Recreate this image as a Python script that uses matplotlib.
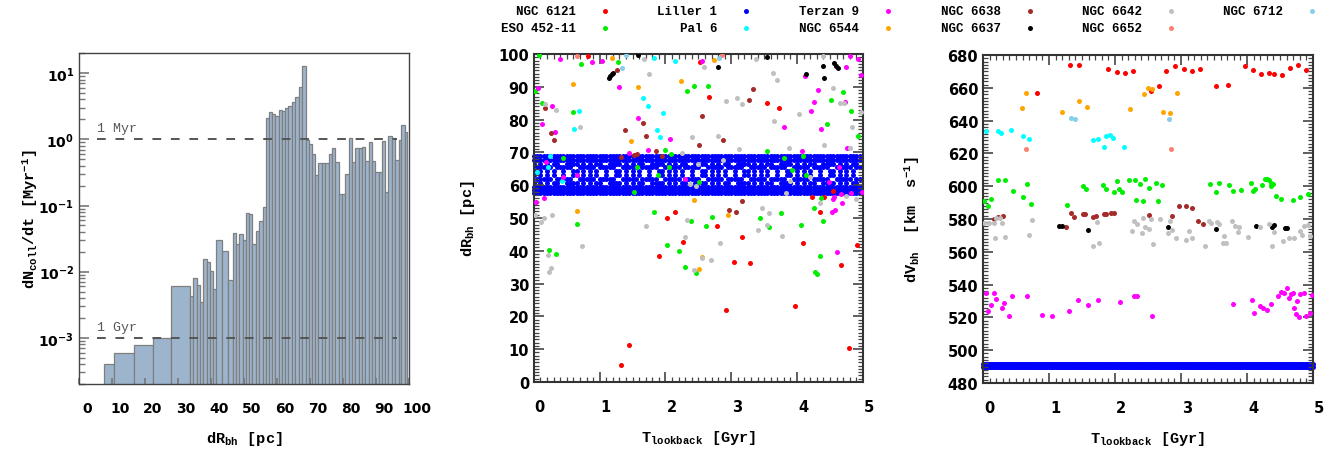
import numpy as np
import matplotlib
matplotlib.use('Agg')
import matplotlib.pyplot as plt
from matplotlib.lines import Line2D
from matplotlib.transforms import ScaledTranslation
from matplotlib.ticker import MultipleLocator, LogLocator, NullFormatter

plt.rcParams['mathtext.fontset'] = 'custom'
plt.rcParams['mathtext.rm'] = 'Liberation Mono:bold'
plt.rcParams['mathtext.bf'] = 'Liberation Mono:bold'
plt.rcParams['mathtext.it'] = 'Liberation Mono:bold'
plt.rcParams['mathtext.sf'] = 'DejaVu Sans:bold'
plt.rcParams['mathtext.default'] = 'rm'

MONO = 'Liberation Mono'

# collision rate histogram: bin edges [pc] and rate per bin [1/Myr]
hist_edges = [7.6, 10.5, 16.7, 22.5, 27.9, 33.6, 34.6, 35.7, 36.7, 37.5, 38.7, 39.7, 40.7,
              41.5, 43.3, 45.2, 46.6, 47.6, 48.6, 49.6, 50.6, 51.6, 52.6, 53.6, 54.6, 55.7,
              56.7, 57.5, 58.5, 59.5, 60.5, 61.5, 62.5, 63.5, 64.5, 65.6, 66.6, 67.6, 68.8,
              69.6, 70.6, 71.6, 72.6, 73.6, 74.6, 75.7, 76.7, 77.7, 78.7, 79.7, 80.7, 81.7,
              82.7, 83.7, 84.8, 85.8, 86.8, 87.8, 88.8, 89.8, 90.8, 91.8, 92.8, 93.8, 94.8,
              95.9, 96.9, 97.7, 98.7, 99.5]
hist_rate = [4.0e-4, 5.9e-4, 7.9e-4, 1.0e-3, 6.0e-3,
             4.3e-3, 8.0e-3, 6.3e-3, 3.5e-3, 0.0158, 0.0138, 0.0103, 5.5e-3,
             0.0296, 0.0205, 7.4e-3, 0.039, 0.026, 0.037, 0.030, 0.076, 0.075, 0.026,
             0.041, 0.058, 0.094,
             2.1, 2.56, 2.4, 2.28, 2.78, 2.7, 2.94, 3.2, 3.7, 4.3, 6.2, 12.7,
             0.99, 0.85, 0.59, 0.29, 0.44, 0.44, 0.44, 0.59, 0.74, 0.45, 0.15, 0.15,
             0.30, 1.06, 0.45, 0.75, 0.75, 0.77, 0.47, 0.91, 0.47, 0.32, 0.32, 0.94,
             0.16, 1.13, 1.06, 0.48, 0.99, 1.65, 1.29]

clusters = ['NGC 6121', 'ESO 452-11', 'Liller 1', 'Pal 6', 'Terzan 9', 'NGC 6544',
            'NGC 6638', 'NGC 6637', 'NGC 6642', 'NGC 6652', 'NGC 6712']
colors = ['#ff0000', '#00ee00', '#0000ff', '#00ffff', '#ff00ff', '#ffa500',
          '#a52a2a', '#000000', '#c0c0c0', '#fa8072', '#87ceeb']

# (T_lookback [Gyr], dR_bh [pc]) per cluster
dr_pts = {
    'NGC 6121': [(0.83, 99.5), (2.53, 97.5), (2.66, 87.0), (3.54, 85.2), (3.72, 83.5), (4.54, 58.3),
                 (4.22, 56.5), (4.41, 56.5), (2.03, 49.9), (2.15, 51.9), (2.27, 42.6), (1.90, 38.4),
                 (2.79, 47.4), (3.17, 44.1), (3.04, 36.6), (3.29, 36.2), (2.92, 21.8), (1.45, 11.4),
                 (1.32, 5.2), (4.09, 42.4), (3.97, 23.2), (4.35, 51.9), (4.66, 35.7), (4.91, 41.9),
                 (4.79, 10.5)],
    'ESO 452-11': [(0.08, 99.7), (0.71, 96.8), (1.28, 97.7), (0.02, 88.8), (2.43, 90.3), (2.32, 88.8),
                   (2.65, 90.1), (4.70, 88.3), (4.52, 86.1), (4.82, 82.5), (4.46, 78.7), (4.93, 75.1),
                   (3.54, 70.5), (4.09, 69.0), (1.99, 70.8), (2.09, 69.5), (0.12, 85.1), (0.60, 82.2),
                   (0.45, 68.3), (1.56, 65.4), (1.88, 63.1), (2.06, 65.4), (1.52, 57.8), (2.51, 61.1),
                   (3.80, 68.2), (3.92, 64.7), (4.13, 63.1), (0.23, 40.2), (0.34, 39.0), (0.66, 48.1),
                   (1.82, 51.9), (2.39, 49.2), (2.03, 41.9), (2.21, 39.8), (2.29, 35.0), (2.47, 33.2),
                   (2.62, 47.6), (2.71, 50.2), (3.44, 50.1), (3.58, 47.2), (3.75, 51.5), (4.06, 47.9),
                   (4.37, 56.0), (4.25, 53.0), (4.40, 49.2), (4.35, 38.4), (4.27, 33.6), (4.31, 32.9)],
    'Pal 6': [(1.83, 98.7), (2.14, 98.0), (1.66, 86.6), (1.74, 84.0), (1.97, 81.9), (1.92, 74.6),
              (1.87, 76.7), (0.69, 82.6), (0.61, 77.1), (0.25, 68.8), (0.22, 65.4), (0.05, 64.0),
              (0.43, 61.4)],
    'Terzan 9': [(0.40, 98.5), (0.89, 97.5), (1.03, 97.9), (2.56, 97.9), (4.80, 99.3), (4.92, 98.5),
                 (4.75, 96.1), (4.12, 93.4), (4.97, 93.6), (0.07, 89.5), (1.29, 90.0), (4.32, 89.0),
                 (4.73, 85.3), (4.25, 85.3), (4.21, 82.5), (4.37, 77.1), (4.76, 71.2), (4.08, 70.3),
                 (3.80, 77.8), (2.07, 74.0), (1.59, 80.4), (1.74, 70.8), (1.44, 69.8), (0.28, 84.2),
                 (0.12, 78.7), (0.32, 76.1), (0.19, 67.0), (0.44, 62.4), (0.66, 63.1), (2.30, 61.9),
                 (4.64, 65.4), (4.49, 60.9), (4.67, 57.3), (4.82, 57.5), (4.99, 58.0), (4.56, 56.3),
                 (0.03, 54.8), (0.16, 56.1), (4.55, 55.8), (4.69, 54.6), (4.57, 52.5), (4.53, 51.7),
                 (4.61, 39.5)],
    'NGC 6544': [(1.19, 98.7), (2.73, 98.2), (0.59, 90.7), (1.58, 89.8), (2.23, 91.8), (1.47, 73.6),
                 (2.44, 55.6), (0.65, 52.0), (2.56, 38.0), (2.51, 34.3), (2.95, 51.0)],
    'NGC 6638': [(1.27, 95.2), (3.33, 89.2), (3.27, 86.1), (2.88, 73.9), (2.51, 72.1), (2.55, 81.2),
                 (1.70, 75.1), (1.66, 79.0), (1.38, 76.7), (1.85, 70.3), (1.95, 69.0), (1.52, 69.2),
                 (1.33, 68.5), (1.56, 69.5), (0.17, 83.4), (0.26, 75.9), (0.30, 73.8), (2.97, 52.4),
                 (3.07, 51.7), (3.16, 55.1)],
    'NGC 6637': [(1.59, 99.7), (3.54, 99.2), (4.40, 96.4), (4.56, 97.1), (4.59, 96.4), (4.62, 95.8),
                 (1.18, 93.9), (1.16, 93.2), (1.14, 92.6), (1.21, 94.2), (2.80, 95.9), (4.14, 93.9),
                 (4.41, 92.7)],
    'NGC 6642': [(1.67, 98.5), (2.58, 95.9), (3.37, 98.5), (4.40, 99.3), (1.75, 93.9), (3.63, 94.2),
                 (3.69, 92.1), (4.55, 89.7), (4.65, 85.0), (4.72, 85.0), (4.97, 82.2), (4.03, 81.7),
                 (4.83, 77.8), (4.80, 71.2), (4.41, 72.1), (3.87, 71.3), (3.12, 71.0), (2.80, 75.1),
                 (2.41, 74.6), (2.92, 85.8), (3.08, 86.6), (3.16, 84.7), (3.65, 79.7), (2.25, 69.7),
                 (0.33, 82.9), (0.17, 84.6), (0.70, 77.8), (2.88, 67.8), (2.50, 66.4), (2.37, 60.4),
                 (2.46, 59.7), (4.19, 62.6), (3.89, 61.4), (3.83, 57.6), (4.74, 56.8), (0.02, 50.9),
                 (0.11, 48.7), (0.15, 49.9), (0.28, 51.0), (0.22, 38.8), (0.26, 34.9), (0.23, 33.6),
                 (0.73, 41.4), (1.71, 47.6), (2.32, 49.5), (2.29, 44.1), (2.44, 34.2), (2.55, 37.7),
                 (2.69, 37.3), (2.83, 42.4), (3.46, 53.0), (3.58, 51.4), (3.41, 46.4), (3.54, 47.9),
                 (3.77, 44.6), (4.35, 54.5), (4.90, 55.8)],
    'NGC 6652': [(0.65, 99.5), (2.86, 99.7)],
    'NGC 6712': [(1.40, 99.7), (2.82, 98.7), (1.34, 95.6)],
}

# (T_lookback [Gyr], dV_bh [km/s]) per cluster
dv_pts = {
    'NGC 6121': [(1.32, 674.1), (1.45, 674.1), (1.90, 671.4), (2.03, 669.6), (2.15, 669.2), (2.28, 670.4),
                 (2.78, 670.0), (2.91, 673.3), (3.04, 671.4), (3.16, 670.4), (3.29, 671.4), (3.97, 673.3),
                 (4.09, 670.8), (4.21, 668.2), (4.34, 669.2), (4.41, 668.2), (4.53, 667.8), (4.65, 672.0),
                 (4.78, 674.1), (4.90, 671.0), (0.82, 656.7), (2.54, 657.8), (2.66, 660.8), (3.53, 661.2),
                 (3.71, 661.8)],
    'ESO 452-11': [(0.23, 603.5), (0.34, 603.5), (0.46, 596.9), (0.60, 593.5), (0.12, 592.4), (0.66, 601.4),
                   (1.52, 600.0), (1.56, 598.0), (1.82, 601.0), (1.87, 598.4), (1.99, 596.5), (2.03, 602.9),
                   (2.06, 598.0), (2.10, 596.3), (2.21, 603.5), (2.30, 603.9), (2.38, 601.6), (2.46, 604.5),
                   (2.51, 598.8), (2.62, 602.0), (2.71, 601.0), (3.44, 601.6), (3.53, 596.5), (3.57, 602.0),
                   (3.73, 601.0), (3.79, 596.9), (3.91, 597.8), (4.06, 602.0), (4.09, 596.9), (4.12, 598.4),
                   (4.23, 600.6), (4.27, 604.5), (4.30, 604.7), (4.34, 603.7), (4.37, 602.0), (4.40, 601.6),
                   (4.36, 600.0), (4.44, 594.3), (4.51, 592.2), (4.69, 591.8), (4.80, 593.3), (4.92, 595.3),
                   (0.01, 591.2), (0.08, 587.7), (0.72, 589.1), (1.28, 588.5), (2.32, 591.6), (2.43, 591.2),
                   (2.65, 591.2)],
    'Pal 6': [(0.05, 633.9), (0.22, 633.5), (0.27, 632.4), (0.43, 634.3), (0.61, 630.6), (0.70, 628.8),
              (1.66, 628.0), (1.74, 628.8), (1.83, 624.1), (1.87, 630.6), (1.92, 631.0), (1.97, 629.2),
              (2.14, 624.1)],
    'Terzan 9': [(0.04, 534.7), (0.07, 524.1), (0.12, 527.6), (0.17, 534.7), (0.20, 531.2), (0.28, 525.7),
                 (0.32, 528.6), (0.40, 520.8), (0.44, 532.8), (0.66, 532.8), (0.89, 521.2), (1.04, 520.8),
                 (1.30, 524.1), (1.44, 530.4), (1.59, 527.3), (1.74, 530.4), (2.07, 529.6), (2.29, 532.8),
                 (2.34, 532.8), (2.56, 520.8), (3.79, 528.2), (4.08, 530.4), (4.11, 522.7), (4.20, 526.7),
                 (4.24, 525.5), (4.31, 524.3), (4.36, 528.2), (4.47, 533.2), (4.52, 535.3), (4.56, 534.9),
                 (4.60, 537.7), (4.63, 531.6), (4.66, 534.3), (4.69, 534.9), (4.71, 525.9), (4.76, 530.0),
                 (4.74, 522.1), (4.79, 520.4), (4.81, 534.3), (4.86, 534.7), (4.89, 520.8), (4.95, 522.9),
                 (4.99, 533.9)],
    'NGC 6544': [(0.59, 647.6), (0.65, 657.1), (1.19, 645.3), (1.46, 652.0), (1.58, 648.0), (2.23, 646.9),
                 (2.44, 656.3), (2.50, 659.8), (2.56, 659.4), (2.72, 645.3), (2.84, 644.9), (2.94, 657.1)],
    'NGC 6638': [(0.17, 580.0), (0.23, 581.0), (0.31, 582.0), (1.33, 583.7), (1.38, 581.4), (1.26, 575.3),
                 (1.51, 583.0), (1.55, 583.0), (1.66, 581.0), (1.71, 581.6), (1.84, 583.0), (1.87, 583.0),
                 (1.94, 583.7), (1.98, 583.7), (2.51, 582.6), (2.87, 582.0), (2.97, 587.7), (3.07, 587.7),
                 (3.16, 586.7), (3.26, 578.6), (3.33, 577.1)],
    'NGC 6637': [(1.15, 575.9), (1.19, 575.7), (1.59, 573.5), (2.80, 574.9), (3.53, 574.1), (4.13, 575.7),
                 (4.38, 574.9), (4.41, 576.5), (4.57, 574.3), (4.61, 574.7)],
    'NGC 6642': [(0.02, 577.6), (0.09, 577.6), (0.16, 577.6), (0.19, 580.4), (0.26, 580.6), (0.29, 577.6),
                 (0.18, 568.6), (0.33, 568.8), (0.74, 579.4), (0.70, 570.2), (1.72, 578.0), (1.67, 563.7),
                 (1.75, 565.2), (2.25, 572.9), (2.29, 579.0), (2.34, 577.0), (2.41, 571.3), (2.43, 580.4),
                 (2.46, 575.3), (2.51, 573.9), (2.55, 580.0), (2.58, 564.7), (2.68, 580.0), (2.80, 571.3),
                 (2.83, 579.0), (2.87, 573.5), (2.92, 568.2), (3.08, 567.4), (3.12, 572.5), (3.16, 568.6),
                 (3.36, 563.7), (3.42, 579.0), (3.45, 577.4), (3.55, 578.2), (3.58, 577.0), (3.65, 569.8),
                 (3.63, 565.2), (3.68, 565.6), (3.77, 578.6), (3.82, 575.9), (3.88, 574.9), (3.86, 572.3),
                 (4.02, 569.2), (4.20, 574.9), (4.34, 577.0), (4.41, 571.9), (4.38, 563.3), (4.54, 566.8),
                 (4.63, 568.6), (4.71, 568.6), (4.80, 572.5), (4.83, 570.0), (4.87, 575.9), (4.92, 576.3),
                 (4.95, 569.4)],
    'NGC 6652': [(0.65, 622.9), (2.85, 622.9)],
    'NGC 6712': [(1.34, 641.8), (1.40, 640.8), (2.82, 640.8)],
}

# Liller 1: dense band of orbit samples, one character per 0.05 Gyr step
liller_dr_full = [57.6, 58.5, 59.5, 67.8, 68.8]
liller_dr_rows = {
    66.6: "#.#.#.##..####.#.#.##..####.#.#.##..####.#.#.##..####.#.#.##..####.#.#.##..####.#.#.##..####.#.#.##.",
    65.4: ".#####.#####..#####.#####..#####.#####..#####.#####..#####.#####..#####.#####..#####.#####..#####.##",
    64.2: "#.#.#.#..#..##.#.#.#..#..##.#.#.#..#..##.#.#.#..#..##.#.#.#..#..##.#.#.#..#..##.#.#.#..#..##.#.#.#..",
    63.0: "#.#.#.#..#..##.#.#.#..#..##.#.#.#..#..##.#.#.#..#..##.#.#.#..#..##.#.#.#..#..##.#.#.#..#..##.#.#.#..",
    61.8: ".#####.#####..#####.#####..#####.#####..#####.#####..#####.#####..#####.#####..#####.#####..#####.##",
    60.6: "#.#.#.##..####.#.#.##..####.#.#.##..####.#.#.##..####.#.#.##..####.#.#.##..####.#.#.##..####.#.#.##.",
}
liller_dv_levels = [489.5, 491.3]

fig = plt.figure(figsize=(13.38, 4.52), dpi=100)
ax1 = fig.add_axes([0.059, 0.148, 0.2466, 0.732])
ax2 = fig.add_axes([0.399, 0.1527, 0.2459, 0.7257])
ax3 = fig.add_axes([0.7347, 0.1504, 0.2466, 0.7257])

shift = lambda px: ScaledTranslation(px / 100, 0, fig.dpi_scale_trans)

# ---- left: collision rate vs separation
edges = np.array(hist_edges)
ax1.bar(edges[:-1], hist_rate, width=np.diff(edges), align='edge', bottom=1e-6,
        color='#9db4cd', edgecolor='#7f7f7f', linewidth=0.9)
ax1.set_yscale('log')
ax1.set_xlim(0, 100)
ax1.set_ylim(2e-4, 20)
ax1.hlines([1.0, 1e-3], 5.5, 96.5, colors='#555555', linestyles=(0, (4.5, 5)), linewidth=1.4)
ax1.text(5.5, 1.2, '1 Myr', family=MONO, fontsize=9.5, color='#555555', va='bottom')
ax1.text(5.5, 1.2e-3, '1 Gyr', family=MONO, fontsize=9.5, color='#555555', va='bottom')
ax1.set_xticks(range(0, 101, 10))
ax1.set_xticklabels([str(v) for v in range(0, 101, 10)])
ax1.set_yticks([1e-3, 1e-2, 1e-1, 1, 10])
ax1.set_yticklabels([r'$\mathsf{10^{-3}}$', r'$\mathsf{10^{-2}}$', r'$\mathsf{10^{-1}}$',
                     r'$\mathsf{10^{0}}$', r'$\mathsf{10^{1}}$'])
ax1.yaxis.set_minor_locator(LogLocator(base=10, subs=np.arange(2, 10)))
ax1.yaxis.set_minor_formatter(NullFormatter())
ax1.tick_params(axis='both', which='both', direction='in', top=False, right=False,
                color='#777777', labelsize=10)
ax1.tick_params(axis='y', which='major', length=7, width=1.2)
ax1.tick_params(axis='y', which='minor', length=4, width=1.0)
ax1.tick_params(axis='x', which='major', length=4, width=1.2, pad=12)
for lab in ax1.get_xticklabels():
    lab.set_fontweight('bold')
    lab.set_transform(lab.get_transform() + shift(8))
for sp in ax1.spines.values():
    sp.set_color('#444444')
    sp.set_linewidth(1.0)
ax1.set_xlabel(r'dR$_{bh}$ [pc]', family=MONO, fontweight='bold', fontsize=11)
ax1.set_ylabel(r'dN$_{coll}$/dt [Myr$^{-1}$]', family=MONO, fontweight='bold', fontsize=11)
ax1.xaxis.set_label_coords(0.5, -0.135)
ax1.yaxis.set_label_coords(-0.118, 0.5)

# ---- middle and right: scatter vs lookback time
t_grid = np.arange(0, 100) * 0.05
t_fine = np.arange(0, 201) * 0.025
msize = 13

for name, c in zip(clusters, colors):
    if name == 'Liller 1':
        for lev in liller_dr_full:
            ax2.scatter(t_grid, np.full(t_grid.size, lev), s=msize, color=c, linewidths=0,
                        clip_on=False)
        for lev, row in liller_dr_rows.items():
            t = np.array([i * 0.05 for i, ch in enumerate(row) if ch == '#'])
            ax2.scatter(t, np.full(t.size, lev), s=msize, color=c, linewidths=0)
        for lev in liller_dv_levels:
            ax3.scatter(t_fine, np.full(t_fine.size, lev), s=msize, color=c, linewidths=0,
                        clip_on=False)
        continue
    t, r = zip(*dr_pts[name])
    ax2.scatter(t, r, s=msize, color=c, linewidths=0, zorder=3)
    t, v = zip(*dv_pts[name])
    ax3.scatter(t, v, s=msize, color=c, linewidths=0, zorder=3)

ax2.set_xlim(0, 5)
ax2.set_ylim(0, 100)
ax2.yaxis.set_major_locator(MultipleLocator(10))
ax2.yaxis.set_minor_locator(MultipleLocator(1))
ax3.set_xlim(0, 5)
ax3.set_ylim(480, 680)
ax3.yaxis.set_major_locator(MultipleLocator(20))
ax3.yaxis.set_minor_locator(MultipleLocator(2))

for ax in (ax2, ax3):
    ax.xaxis.set_major_locator(MultipleLocator(1))
    ax.xaxis.set_minor_locator(MultipleLocator(0.1))
    ax.tick_params(which='both', direction='in', top=True, right=True, color='#444444',
                   labelsize=10.5)
    ax.tick_params(which='major', length=7, width=1.2)
    ax.tick_params(which='minor', length=3.5, width=0.9)
    ax.tick_params(axis='x', pad=12)
    for lab in ax.get_xticklabels() + ax.get_yticklabels():
        lab.set_fontweight('bold')
    for lab in ax.get_xticklabels():
        lab.set_transform(lab.get_transform() + shift(6))
    for sp in ax.spines.values():
        sp.set_color('#333333')
        sp.set_linewidth(1.5)
    ax.set_xlabel(r'T$_{lookback}$ [Gyr]', family=MONO, fontweight='bold', fontsize=11)
    ax.xaxis.set_label_coords(0.5, -0.14)

ax2.set_ylabel(r'dR$_{bh}$ [pc]', family=MONO, fontweight='bold', fontsize=11)
ax2.yaxis.set_label_coords(-0.173, 0.5)
ax3.set_ylabel(r'dV$_{bh}$  [km  s$^{-1}$]', family=MONO, fontweight='bold', fontsize=11)
ax3.yaxis.set_label_coords(-0.185, 0.5)

# ---- shared key above the scatter panels
key_x = [605, 746, 888, 1030, 1171, 1312]
key_y = [0.973, 0.936]
W = 1338.0
for i, (name, c) in enumerate(zip(clusters, colors)):
    col, row = i // 2, i % 2
    xm = key_x[col] / W
    fig.text(xm - 29 / W, key_y[row], name, family=MONO, fontweight='bold', fontsize=9,
             ha='right', va='center')
    fig.add_artist(Line2D([xm], [key_y[row]], marker='o', markersize=3.6, color=c,
                          markeredgewidth=0, linestyle='none', transform=fig.transFigure))

fig.savefig('out.png', dpi=100)
